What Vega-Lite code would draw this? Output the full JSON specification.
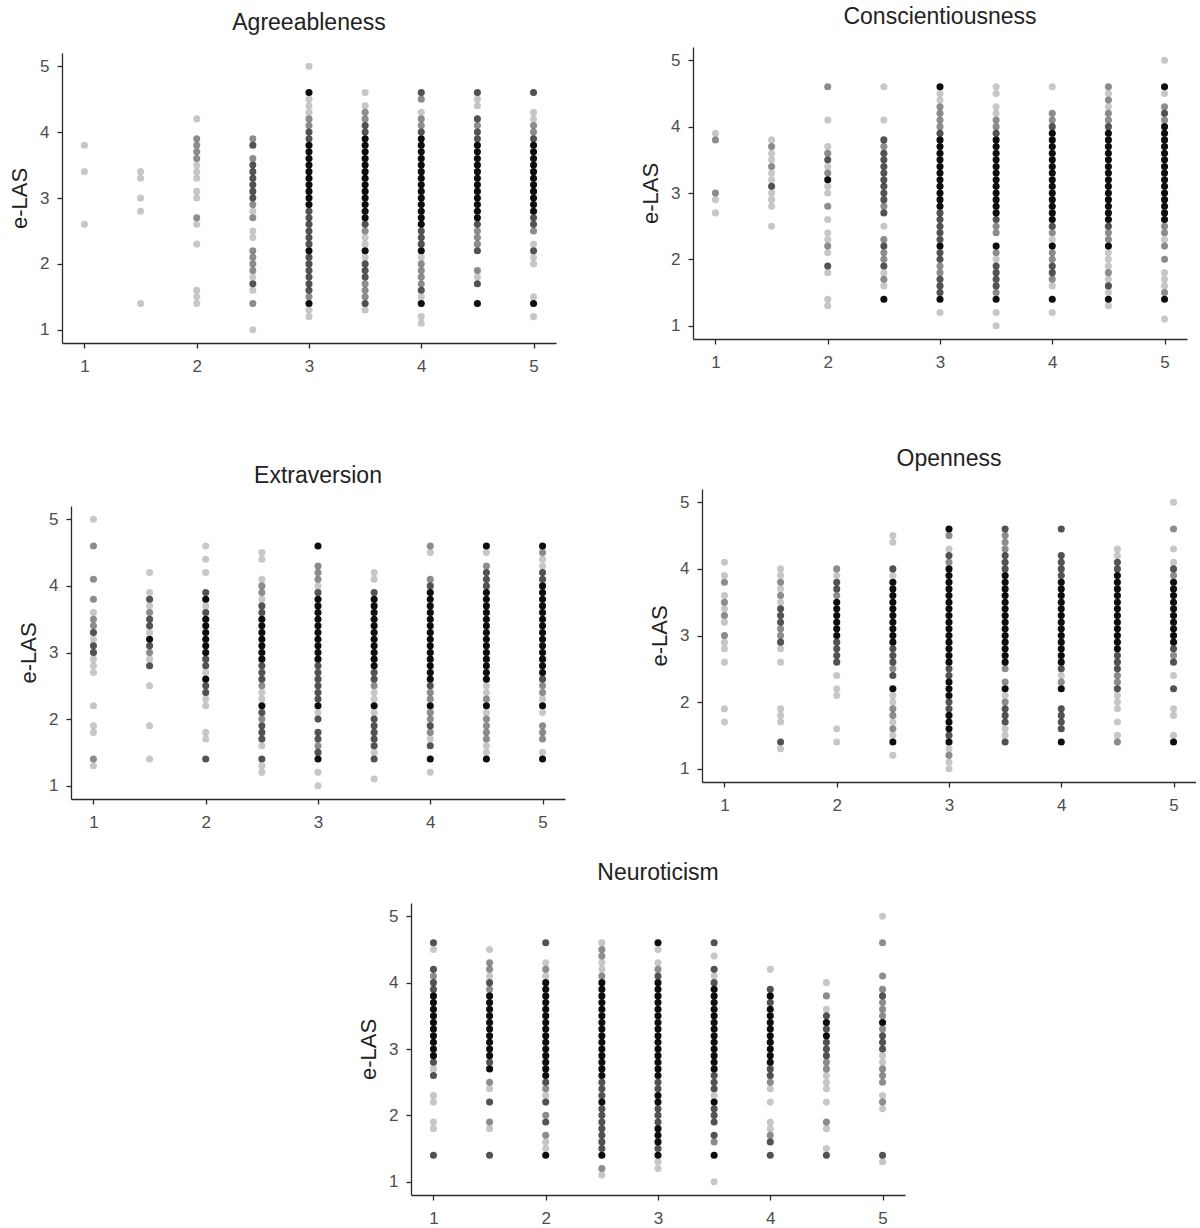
{
  "$schema": "https://vega.github.io/schema/vega-lite/v6.json",
  "background": "#ffffff",
  "padding": {"left": 7, "top": 5, "right": 0, "bottom": 0},
  "config": {
    "font": "Liberation Sans",
    "view": {"stroke": null},
    "title": {"fontSize": 23, "fontWeight": "normal", "color": "#222222", "offset": 18},
    "axis": {
      "grid": false,
      "domainColor": "#2a2a2a",
      "domainWidth": 1.3,
      "tickColor": "#2a2a2a",
      "tickSize": 5,
      "tickWidth": 1.3,
      "labelFontSize": 17,
      "labelColor": "#4d4d4d",
      "labelPadding": 8,
      "titleFontSize": 22,
      "titleFontWeight": "normal",
      "titleColor": "#222222"
    },
    "axisX": {"labelPadding": 10},
    "axisY": {"titlePadding": 8}
  },
  "datasets": {
    "agr": [
      {"x":1,"y":3.8,"n":1},{"x":1,"y":3.4,"n":1},{"x":1,"y":2.6,"n":1},
      {"x":1.5,"y":3.4,"n":1},{"x":1.5,"y":3.3,"n":1},{"x":1.5,"y":3,"n":1},{"x":1.5,"y":2.8,"n":1},{"x":1.5,"y":1.4,"n":1},
      {"x":2,"y":4.2,"n":1},{"x":2,"y":3.9,"n":2},{"x":2,"y":3.8,"n":2},{"x":2,"y":3.7,"n":2},{"x":2,"y":3.6,"n":2},{"x":2,"y":3.5,"n":1},{"x":2,"y":3.4,"n":1},{"x":2,"y":3.3,"n":1},{"x":2,"y":3.1,"n":1},{"x":2,"y":3,"n":1},{"x":2,"y":2.7,"n":2},{"x":2,"y":2.6,"n":1},{"x":2,"y":2.3,"n":1},{"x":2,"y":1.6,"n":1},{"x":2,"y":1.5,"n":1},{"x":2,"y":1.4,"n":1},
      {"x":2.5,"y":3.9,"n":2},{"x":2.5,"y":3.8,"n":3},{"x":2.5,"y":3.6,"n":2},{"x":2.5,"y":3.5,"n":3},{"x":2.5,"y":3.4,"n":3},{"x":2.5,"y":3.3,"n":3},{"x":2.5,"y":3.2,"n":3},{"x":2.5,"y":3.1,"n":3},{"x":2.5,"y":3,"n":3},{"x":2.5,"y":2.9,"n":2},{"x":2.5,"y":2.8,"n":1},{"x":2.5,"y":2.7,"n":2},{"x":2.5,"y":2.5,"n":1},{"x":2.5,"y":2.4,"n":1},{"x":2.5,"y":2.2,"n":2},{"x":2.5,"y":2.1,"n":2},{"x":2.5,"y":2,"n":2},{"x":2.5,"y":1.9,"n":2},{"x":2.5,"y":1.8,"n":1},{"x":2.5,"y":1.7,"n":3},{"x":2.5,"y":1.6,"n":1},{"x":2.5,"y":1.4,"n":2},{"x":2.5,"y":1,"n":1},
      {"x":3,"y":5,"n":1},{"x":3,"y":4.6,"n":4},{"x":3,"y":4.5,"n":1},{"x":3,"y":4.4,"n":1},{"x":3,"y":4.3,"n":1},{"x":3,"y":4.2,"n":2},{"x":3,"y":4.1,"n":2},{"x":3,"y":4,"n":3},{"x":3,"y":3.9,"n":3},{"x":3,"y":3.8,"n":4},{"x":3,"y":3.7,"n":4},{"x":3,"y":3.6,"n":4},{"x":3,"y":3.5,"n":4},{"x":3,"y":3.4,"n":4},{"x":3,"y":3.3,"n":4},{"x":3,"y":3.2,"n":4},{"x":3,"y":3.1,"n":4},{"x":3,"y":3,"n":4},{"x":3,"y":2.9,"n":4},{"x":3,"y":2.8,"n":3},{"x":3,"y":2.7,"n":3},{"x":3,"y":2.6,"n":3},{"x":3,"y":2.5,"n":3},{"x":3,"y":2.4,"n":3},{"x":3,"y":2.3,"n":3},{"x":3,"y":2.2,"n":4},{"x":3,"y":2.1,"n":3},{"x":3,"y":2,"n":3},{"x":3,"y":1.9,"n":3},{"x":3,"y":1.8,"n":3},{"x":3,"y":1.7,"n":3},{"x":3,"y":1.6,"n":3},{"x":3,"y":1.5,"n":2},{"x":3,"y":1.4,"n":4},{"x":3,"y":1.3,"n":1},{"x":3,"y":1.2,"n":1},
      {"x":3.5,"y":4.6,"n":1},{"x":3.5,"y":4.4,"n":1},{"x":3.5,"y":4.3,"n":2},{"x":3.5,"y":4.2,"n":2},{"x":3.5,"y":4.1,"n":3},{"x":3.5,"y":4,"n":3},{"x":3.5,"y":3.9,"n":4},{"x":3.5,"y":3.8,"n":4},{"x":3.5,"y":3.7,"n":4},{"x":3.5,"y":3.6,"n":4},{"x":3.5,"y":3.5,"n":4},{"x":3.5,"y":3.4,"n":4},{"x":3.5,"y":3.3,"n":4},{"x":3.5,"y":3.2,"n":4},{"x":3.5,"y":3.1,"n":4},{"x":3.5,"y":3,"n":4},{"x":3.5,"y":2.9,"n":4},{"x":3.5,"y":2.8,"n":4},{"x":3.5,"y":2.7,"n":4},{"x":3.5,"y":2.6,"n":3},{"x":3.5,"y":2.5,"n":2},{"x":3.5,"y":2.4,"n":1},{"x":3.5,"y":2.3,"n":1},{"x":3.5,"y":2.2,"n":4},{"x":3.5,"y":2.1,"n":1},{"x":3.5,"y":2,"n":3},{"x":3.5,"y":1.9,"n":3},{"x":3.5,"y":1.8,"n":3},{"x":3.5,"y":1.7,"n":2},{"x":3.5,"y":1.6,"n":2},{"x":3.5,"y":1.5,"n":2},{"x":3.5,"y":1.4,"n":3},{"x":3.5,"y":1.3,"n":1},
      {"x":4,"y":4.6,"n":3},{"x":4,"y":4.5,"n":2},{"x":4,"y":4.3,"n":1},{"x":4,"y":4.2,"n":2},{"x":4,"y":4.1,"n":2},{"x":4,"y":4,"n":3},{"x":4,"y":3.9,"n":4},{"x":4,"y":3.8,"n":4},{"x":4,"y":3.7,"n":4},{"x":4,"y":3.6,"n":4},{"x":4,"y":3.5,"n":4},{"x":4,"y":3.4,"n":4},{"x":4,"y":3.3,"n":4},{"x":4,"y":3.2,"n":4},{"x":4,"y":3.1,"n":4},{"x":4,"y":3,"n":4},{"x":4,"y":2.9,"n":4},{"x":4,"y":2.8,"n":4},{"x":4,"y":2.7,"n":4},{"x":4,"y":2.6,"n":4},{"x":4,"y":2.5,"n":3},{"x":4,"y":2.4,"n":3},{"x":4,"y":2.3,"n":3},{"x":4,"y":2.2,"n":4},{"x":4,"y":2.1,"n":1},{"x":4,"y":2,"n":2},{"x":4,"y":1.9,"n":2},{"x":4,"y":1.8,"n":2},{"x":4,"y":1.7,"n":2},{"x":4,"y":1.6,"n":3},{"x":4,"y":1.5,"n":1},{"x":4,"y":1.4,"n":4},{"x":4,"y":1.2,"n":1},{"x":4,"y":1.1,"n":1},
      {"x":4.5,"y":4.6,"n":3},{"x":4.5,"y":4.5,"n":1},{"x":4.5,"y":4.4,"n":1},{"x":4.5,"y":4.2,"n":3},{"x":4.5,"y":4.1,"n":2},{"x":4.5,"y":4,"n":3},{"x":4.5,"y":3.9,"n":3},{"x":4.5,"y":3.8,"n":4},{"x":4.5,"y":3.7,"n":4},{"x":4.5,"y":3.6,"n":4},{"x":4.5,"y":3.5,"n":4},{"x":4.5,"y":3.4,"n":4},{"x":4.5,"y":3.3,"n":4},{"x":4.5,"y":3.2,"n":4},{"x":4.5,"y":3.1,"n":4},{"x":4.5,"y":3,"n":4},{"x":4.5,"y":2.9,"n":4},{"x":4.5,"y":2.8,"n":4},{"x":4.5,"y":2.7,"n":4},{"x":4.5,"y":2.6,"n":3},{"x":4.5,"y":2.5,"n":2},{"x":4.5,"y":2.4,"n":2},{"x":4.5,"y":2.3,"n":2},{"x":4.5,"y":2.2,"n":3},{"x":4.5,"y":1.9,"n":2},{"x":4.5,"y":1.8,"n":1},{"x":4.5,"y":1.7,"n":3},{"x":4.5,"y":1.4,"n":4},
      {"x":5,"y":4.6,"n":3},{"x":5,"y":4.3,"n":1},{"x":5,"y":4.2,"n":1},{"x":5,"y":4.1,"n":2},{"x":5,"y":4,"n":2},{"x":5,"y":3.9,"n":3},{"x":5,"y":3.8,"n":4},{"x":5,"y":3.7,"n":4},{"x":5,"y":3.6,"n":4},{"x":5,"y":3.5,"n":4},{"x":5,"y":3.4,"n":4},{"x":5,"y":3.3,"n":4},{"x":5,"y":3.2,"n":4},{"x":5,"y":3.1,"n":4},{"x":5,"y":3,"n":4},{"x":5,"y":2.9,"n":4},{"x":5,"y":2.8,"n":4},{"x":5,"y":2.7,"n":3},{"x":5,"y":2.6,"n":3},{"x":5,"y":2.5,"n":2},{"x":5,"y":2.3,"n":1},{"x":5,"y":2.2,"n":3},{"x":5,"y":2.1,"n":1},{"x":5,"y":2,"n":1},{"x":5,"y":1.5,"n":1},{"x":5,"y":1.4,"n":4},{"x":5,"y":1.2,"n":1}
    ],
    "con": [
      {"x":1,"y":3.9,"n":1},{"x":1,"y":3.8,"n":2},{"x":1,"y":3,"n":2},{"x":1,"y":2.9,"n":1},{"x":1,"y":2.7,"n":1},
      {"x":1.5,"y":3.8,"n":1},{"x":1.5,"y":3.7,"n":2},{"x":1.5,"y":3.6,"n":1},{"x":1.5,"y":3.5,"n":1},{"x":1.5,"y":3.4,"n":2},{"x":1.5,"y":3.3,"n":1},{"x":1.5,"y":3.2,"n":1},{"x":1.5,"y":3.1,"n":3},{"x":1.5,"y":3,"n":1},{"x":1.5,"y":2.9,"n":1},{"x":1.5,"y":2.8,"n":1},{"x":1.5,"y":2.5,"n":1},
      {"x":2,"y":4.6,"n":2},{"x":2,"y":4.1,"n":1},{"x":2,"y":3.7,"n":1},{"x":2,"y":3.6,"n":2},{"x":2,"y":3.5,"n":3},{"x":2,"y":3.4,"n":1},{"x":2,"y":3.3,"n":2},{"x":2,"y":3.2,"n":4},{"x":2,"y":3.1,"n":1},{"x":2,"y":3,"n":1},{"x":2,"y":2.8,"n":2},{"x":2,"y":2.6,"n":1},{"x":2,"y":2.4,"n":1},{"x":2,"y":2.3,"n":1},{"x":2,"y":2.2,"n":2},{"x":2,"y":2.1,"n":1},{"x":2,"y":1.9,"n":3},{"x":2,"y":1.8,"n":1},{"x":2,"y":1.4,"n":1},{"x":2,"y":1.3,"n":1},
      {"x":2.5,"y":4.6,"n":1},{"x":2.5,"y":4.1,"n":1},{"x":2.5,"y":3.8,"n":3},{"x":2.5,"y":3.7,"n":2},{"x":2.5,"y":3.6,"n":3},{"x":2.5,"y":3.5,"n":3},{"x":2.5,"y":3.4,"n":3},{"x":2.5,"y":3.3,"n":3},{"x":2.5,"y":3.2,"n":3},{"x":2.5,"y":3.1,"n":3},{"x":2.5,"y":3,"n":3},{"x":2.5,"y":2.9,"n":3},{"x":2.5,"y":2.8,"n":2},{"x":2.5,"y":2.7,"n":3},{"x":2.5,"y":2.5,"n":1},{"x":2.5,"y":2.3,"n":2},{"x":2.5,"y":2.2,"n":3},{"x":2.5,"y":2.1,"n":2},{"x":2.5,"y":2,"n":2},{"x":2.5,"y":1.9,"n":3},{"x":2.5,"y":1.8,"n":1},{"x":2.5,"y":1.7,"n":2},{"x":2.5,"y":1.6,"n":1},{"x":2.5,"y":1.4,"n":4},
      {"x":3,"y":4.6,"n":4},{"x":3,"y":4.5,"n":1},{"x":3,"y":4.4,"n":1},{"x":3,"y":4.3,"n":2},{"x":3,"y":4.2,"n":2},{"x":3,"y":4.1,"n":2},{"x":3,"y":4,"n":2},{"x":3,"y":3.9,"n":3},{"x":3,"y":3.8,"n":4},{"x":3,"y":3.7,"n":4},{"x":3,"y":3.6,"n":4},{"x":3,"y":3.5,"n":4},{"x":3,"y":3.4,"n":4},{"x":3,"y":3.3,"n":4},{"x":3,"y":3.2,"n":4},{"x":3,"y":3.1,"n":4},{"x":3,"y":3,"n":4},{"x":3,"y":2.9,"n":4},{"x":3,"y":2.8,"n":4},{"x":3,"y":2.7,"n":3},{"x":3,"y":2.6,"n":3},{"x":3,"y":2.5,"n":3},{"x":3,"y":2.4,"n":3},{"x":3,"y":2.3,"n":3},{"x":3,"y":2.2,"n":4},{"x":3,"y":2.1,"n":3},{"x":3,"y":2,"n":3},{"x":3,"y":1.9,"n":2},{"x":3,"y":1.8,"n":2},{"x":3,"y":1.7,"n":3},{"x":3,"y":1.6,"n":3},{"x":3,"y":1.5,"n":3},{"x":3,"y":1.4,"n":4},{"x":3,"y":1.2,"n":1},
      {"x":3.5,"y":4.6,"n":1},{"x":3.5,"y":4.5,"n":1},{"x":3.5,"y":4.3,"n":1},{"x":3.5,"y":4.2,"n":1},{"x":3.5,"y":4.1,"n":2},{"x":3.5,"y":4,"n":2},{"x":3.5,"y":3.9,"n":3},{"x":3.5,"y":3.8,"n":4},{"x":3.5,"y":3.7,"n":4},{"x":3.5,"y":3.6,"n":4},{"x":3.5,"y":3.5,"n":4},{"x":3.5,"y":3.4,"n":4},{"x":3.5,"y":3.3,"n":4},{"x":3.5,"y":3.2,"n":4},{"x":3.5,"y":3.1,"n":4},{"x":3.5,"y":3,"n":4},{"x":3.5,"y":2.9,"n":4},{"x":3.5,"y":2.8,"n":4},{"x":3.5,"y":2.7,"n":4},{"x":3.5,"y":2.6,"n":3},{"x":3.5,"y":2.5,"n":2},{"x":3.5,"y":2.4,"n":2},{"x":3.5,"y":2.2,"n":4},{"x":3.5,"y":2.1,"n":2},{"x":3.5,"y":2,"n":1},{"x":3.5,"y":1.9,"n":3},{"x":3.5,"y":1.8,"n":3},{"x":3.5,"y":1.7,"n":3},{"x":3.5,"y":1.6,"n":3},{"x":3.5,"y":1.5,"n":2},{"x":3.5,"y":1.4,"n":4},{"x":3.5,"y":1.2,"n":1},{"x":3.5,"y":1,"n":1},
      {"x":4,"y":4.6,"n":1},{"x":4,"y":4.2,"n":2},{"x":4,"y":4.1,"n":2},{"x":4,"y":4,"n":3},{"x":4,"y":3.9,"n":4},{"x":4,"y":3.8,"n":4},{"x":4,"y":3.7,"n":4},{"x":4,"y":3.6,"n":4},{"x":4,"y":3.5,"n":4},{"x":4,"y":3.4,"n":4},{"x":4,"y":3.3,"n":4},{"x":4,"y":3.2,"n":4},{"x":4,"y":3.1,"n":4},{"x":4,"y":3,"n":4},{"x":4,"y":2.9,"n":4},{"x":4,"y":2.8,"n":4},{"x":4,"y":2.7,"n":4},{"x":4,"y":2.6,"n":4},{"x":4,"y":2.5,"n":3},{"x":4,"y":2.4,"n":2},{"x":4,"y":2.3,"n":1},{"x":4,"y":2.2,"n":4},{"x":4,"y":2.1,"n":2},{"x":4,"y":2,"n":2},{"x":4,"y":1.9,"n":3},{"x":4,"y":1.8,"n":3},{"x":4,"y":1.7,"n":2},{"x":4,"y":1.6,"n":1},{"x":4,"y":1.4,"n":4},{"x":4,"y":1.2,"n":1},
      {"x":4.5,"y":4.6,"n":2},{"x":4.5,"y":4.5,"n":1},{"x":4.5,"y":4.4,"n":2},{"x":4.5,"y":4.3,"n":1},{"x":4.5,"y":4.2,"n":2},{"x":4.5,"y":4.1,"n":2},{"x":4.5,"y":4,"n":3},{"x":4.5,"y":3.9,"n":4},{"x":4.5,"y":3.8,"n":4},{"x":4.5,"y":3.7,"n":4},{"x":4.5,"y":3.6,"n":4},{"x":4.5,"y":3.5,"n":4},{"x":4.5,"y":3.4,"n":4},{"x":4.5,"y":3.3,"n":4},{"x":4.5,"y":3.2,"n":4},{"x":4.5,"y":3.1,"n":4},{"x":4.5,"y":3,"n":4},{"x":4.5,"y":2.9,"n":4},{"x":4.5,"y":2.8,"n":4},{"x":4.5,"y":2.7,"n":4},{"x":4.5,"y":2.6,"n":4},{"x":4.5,"y":2.5,"n":3},{"x":4.5,"y":2.4,"n":2},{"x":4.5,"y":2.3,"n":2},{"x":4.5,"y":2.2,"n":4},{"x":4.5,"y":2.1,"n":1},{"x":4.5,"y":2,"n":1},{"x":4.5,"y":1.9,"n":1},{"x":4.5,"y":1.8,"n":2},{"x":4.5,"y":1.7,"n":1},{"x":4.5,"y":1.6,"n":3},{"x":4.5,"y":1.5,"n":1},{"x":4.5,"y":1.4,"n":4},{"x":4.5,"y":1.3,"n":1},
      {"x":5,"y":5,"n":1},{"x":5,"y":4.6,"n":4},{"x":5,"y":4.5,"n":1},{"x":5,"y":4.3,"n":2},{"x":5,"y":4.2,"n":3},{"x":5,"y":4.1,"n":2},{"x":5,"y":4,"n":4},{"x":5,"y":3.9,"n":4},{"x":5,"y":3.8,"n":4},{"x":5,"y":3.7,"n":4},{"x":5,"y":3.6,"n":4},{"x":5,"y":3.5,"n":4},{"x":5,"y":3.4,"n":4},{"x":5,"y":3.3,"n":4},{"x":5,"y":3.2,"n":4},{"x":5,"y":3.1,"n":4},{"x":5,"y":3,"n":4},{"x":5,"y":2.9,"n":4},{"x":5,"y":2.8,"n":4},{"x":5,"y":2.7,"n":4},{"x":5,"y":2.6,"n":4},{"x":5,"y":2.5,"n":2},{"x":5,"y":2.4,"n":2},{"x":5,"y":2.3,"n":1},{"x":5,"y":2.2,"n":2},{"x":5,"y":2,"n":2},{"x":5,"y":1.8,"n":1},{"x":5,"y":1.7,"n":1},{"x":5,"y":1.6,"n":1},{"x":5,"y":1.5,"n":2},{"x":5,"y":1.4,"n":4},{"x":5,"y":1.1,"n":1}
    ],
    "ext": [
      {"x":1,"y":5,"n":1},{"x":1,"y":4.6,"n":2},{"x":1,"y":4.1,"n":2},{"x":1,"y":3.8,"n":2},{"x":1,"y":3.6,"n":1},{"x":1,"y":3.5,"n":2},{"x":1,"y":3.4,"n":2},{"x":1,"y":3.3,"n":3},{"x":1,"y":3.2,"n":1},{"x":1,"y":3.1,"n":3},{"x":1,"y":3,"n":3},{"x":1,"y":2.9,"n":1},{"x":1,"y":2.8,"n":1},{"x":1,"y":2.7,"n":1},{"x":1,"y":2.2,"n":1},{"x":1,"y":1.9,"n":1},{"x":1,"y":1.8,"n":1},{"x":1,"y":1.4,"n":2},{"x":1,"y":1.3,"n":1},
      {"x":1.5,"y":4.2,"n":1},{"x":1.5,"y":3.9,"n":1},{"x":1.5,"y":3.8,"n":3},{"x":1.5,"y":3.7,"n":1},{"x":1.5,"y":3.6,"n":2},{"x":1.5,"y":3.5,"n":3},{"x":1.5,"y":3.4,"n":3},{"x":1.5,"y":3.3,"n":1},{"x":1.5,"y":3.2,"n":4},{"x":1.5,"y":3.1,"n":3},{"x":1.5,"y":3,"n":2},{"x":1.5,"y":2.9,"n":1},{"x":1.5,"y":2.8,"n":3},{"x":1.5,"y":2.5,"n":1},{"x":1.5,"y":1.9,"n":1},{"x":1.5,"y":1.4,"n":1},
      {"x":2,"y":4.6,"n":1},{"x":2,"y":4.4,"n":1},{"x":2,"y":4.2,"n":1},{"x":2,"y":3.9,"n":3},{"x":2,"y":3.8,"n":4},{"x":2,"y":3.7,"n":1},{"x":2,"y":3.6,"n":3},{"x":2,"y":3.5,"n":4},{"x":2,"y":3.4,"n":4},{"x":2,"y":3.3,"n":4},{"x":2,"y":3.2,"n":4},{"x":2,"y":3.1,"n":4},{"x":2,"y":3,"n":4},{"x":2,"y":2.9,"n":3},{"x":2,"y":2.8,"n":3},{"x":2,"y":2.7,"n":1},{"x":2,"y":2.6,"n":4},{"x":2,"y":2.5,"n":3},{"x":2,"y":2.4,"n":3},{"x":2,"y":2.3,"n":1},{"x":2,"y":2.2,"n":1},{"x":2,"y":1.8,"n":1},{"x":2,"y":1.7,"n":1},{"x":2,"y":1.4,"n":3},
      {"x":2.5,"y":4.5,"n":1},{"x":2.5,"y":4.4,"n":1},{"x":2.5,"y":4.1,"n":1},{"x":2.5,"y":4,"n":2},{"x":2.5,"y":3.9,"n":2},{"x":2.5,"y":3.8,"n":1},{"x":2.5,"y":3.7,"n":3},{"x":2.5,"y":3.6,"n":3},{"x":2.5,"y":3.5,"n":4},{"x":2.5,"y":3.4,"n":4},{"x":2.5,"y":3.3,"n":4},{"x":2.5,"y":3.2,"n":4},{"x":2.5,"y":3.1,"n":4},{"x":2.5,"y":3,"n":4},{"x":2.5,"y":2.9,"n":4},{"x":2.5,"y":2.8,"n":3},{"x":2.5,"y":2.7,"n":3},{"x":2.5,"y":2.6,"n":3},{"x":2.5,"y":2.5,"n":2},{"x":2.5,"y":2.4,"n":1},{"x":2.5,"y":2.3,"n":1},{"x":2.5,"y":2.2,"n":4},{"x":2.5,"y":2.1,"n":3},{"x":2.5,"y":2,"n":2},{"x":2.5,"y":1.9,"n":3},{"x":2.5,"y":1.8,"n":3},{"x":2.5,"y":1.7,"n":3},{"x":2.5,"y":1.6,"n":1},{"x":2.5,"y":1.4,"n":3},{"x":2.5,"y":1.3,"n":1},{"x":2.5,"y":1.2,"n":1},
      {"x":3,"y":4.6,"n":4},{"x":3,"y":4.3,"n":2},{"x":3,"y":4.2,"n":2},{"x":3,"y":4.1,"n":2},{"x":3,"y":4,"n":1},{"x":3,"y":3.9,"n":3},{"x":3,"y":3.8,"n":4},{"x":3,"y":3.7,"n":4},{"x":3,"y":3.6,"n":4},{"x":3,"y":3.5,"n":4},{"x":3,"y":3.4,"n":4},{"x":3,"y":3.3,"n":4},{"x":3,"y":3.2,"n":4},{"x":3,"y":3.1,"n":4},{"x":3,"y":3,"n":4},{"x":3,"y":2.9,"n":4},{"x":3,"y":2.8,"n":3},{"x":3,"y":2.7,"n":3},{"x":3,"y":2.6,"n":3},{"x":3,"y":2.5,"n":3},{"x":3,"y":2.4,"n":3},{"x":3,"y":2.3,"n":3},{"x":3,"y":2.2,"n":4},{"x":3,"y":2.1,"n":1},{"x":3,"y":2,"n":3},{"x":3,"y":1.8,"n":3},{"x":3,"y":1.7,"n":3},{"x":3,"y":1.6,"n":2},{"x":3,"y":1.5,"n":3},{"x":3,"y":1.4,"n":4},{"x":3,"y":1.2,"n":1},{"x":3,"y":1,"n":1},
      {"x":3.5,"y":4.2,"n":1},{"x":3.5,"y":4.1,"n":1},{"x":3.5,"y":3.9,"n":3},{"x":3.5,"y":3.8,"n":4},{"x":3.5,"y":3.7,"n":4},{"x":3.5,"y":3.6,"n":4},{"x":3.5,"y":3.5,"n":4},{"x":3.5,"y":3.4,"n":4},{"x":3.5,"y":3.3,"n":4},{"x":3.5,"y":3.2,"n":4},{"x":3.5,"y":3.1,"n":4},{"x":3.5,"y":3,"n":4},{"x":3.5,"y":2.9,"n":4},{"x":3.5,"y":2.8,"n":4},{"x":3.5,"y":2.7,"n":3},{"x":3.5,"y":2.6,"n":3},{"x":3.5,"y":2.5,"n":2},{"x":3.5,"y":2.4,"n":1},{"x":3.5,"y":2.3,"n":1},{"x":3.5,"y":2.2,"n":4},{"x":3.5,"y":2.1,"n":1},{"x":3.5,"y":2,"n":3},{"x":3.5,"y":1.9,"n":3},{"x":3.5,"y":1.8,"n":3},{"x":3.5,"y":1.7,"n":3},{"x":3.5,"y":1.6,"n":3},{"x":3.5,"y":1.5,"n":1},{"x":3.5,"y":1.4,"n":3},{"x":3.5,"y":1.1,"n":1},
      {"x":4,"y":4.6,"n":2},{"x":4,"y":4.5,"n":1},{"x":4,"y":4.1,"n":2},{"x":4,"y":4,"n":3},{"x":4,"y":3.9,"n":4},{"x":4,"y":3.8,"n":4},{"x":4,"y":3.7,"n":4},{"x":4,"y":3.6,"n":4},{"x":4,"y":3.5,"n":4},{"x":4,"y":3.4,"n":4},{"x":4,"y":3.3,"n":4},{"x":4,"y":3.2,"n":4},{"x":4,"y":3.1,"n":4},{"x":4,"y":3,"n":4},{"x":4,"y":2.9,"n":4},{"x":4,"y":2.8,"n":4},{"x":4,"y":2.7,"n":4},{"x":4,"y":2.6,"n":4},{"x":4,"y":2.5,"n":3},{"x":4,"y":2.4,"n":2},{"x":4,"y":2.3,"n":2},{"x":4,"y":2.2,"n":4},{"x":4,"y":2.1,"n":2},{"x":4,"y":2,"n":2},{"x":4,"y":1.9,"n":3},{"x":4,"y":1.8,"n":2},{"x":4,"y":1.7,"n":1},{"x":4,"y":1.6,"n":3},{"x":4,"y":1.4,"n":4},{"x":4,"y":1.2,"n":1},
      {"x":4.5,"y":4.6,"n":4},{"x":4.5,"y":4.5,"n":1},{"x":4.5,"y":4.3,"n":2},{"x":4.5,"y":4.2,"n":3},{"x":4.5,"y":4.1,"n":3},{"x":4.5,"y":4,"n":3},{"x":4.5,"y":3.9,"n":4},{"x":4.5,"y":3.8,"n":4},{"x":4.5,"y":3.7,"n":4},{"x":4.5,"y":3.6,"n":4},{"x":4.5,"y":3.5,"n":4},{"x":4.5,"y":3.4,"n":4},{"x":4.5,"y":3.3,"n":4},{"x":4.5,"y":3.2,"n":4},{"x":4.5,"y":3.1,"n":4},{"x":4.5,"y":3,"n":4},{"x":4.5,"y":2.9,"n":4},{"x":4.5,"y":2.8,"n":4},{"x":4.5,"y":2.7,"n":4},{"x":4.5,"y":2.6,"n":4},{"x":4.5,"y":2.5,"n":1},{"x":4.5,"y":2.4,"n":1},{"x":4.5,"y":2.3,"n":2},{"x":4.5,"y":2.2,"n":4},{"x":4.5,"y":2.1,"n":1},{"x":4.5,"y":2,"n":2},{"x":4.5,"y":1.9,"n":2},{"x":4.5,"y":1.8,"n":2},{"x":4.5,"y":1.7,"n":2},{"x":4.5,"y":1.6,"n":1},{"x":4.5,"y":1.5,"n":1},{"x":4.5,"y":1.4,"n":4},
      {"x":5,"y":4.6,"n":4},{"x":5,"y":4.5,"n":2},{"x":5,"y":4.4,"n":1},{"x":5,"y":4.3,"n":1},{"x":5,"y":4.2,"n":3},{"x":5,"y":4.1,"n":3},{"x":5,"y":4,"n":4},{"x":5,"y":3.9,"n":4},{"x":5,"y":3.8,"n":4},{"x":5,"y":3.7,"n":4},{"x":5,"y":3.6,"n":4},{"x":5,"y":3.5,"n":4},{"x":5,"y":3.4,"n":4},{"x":5,"y":3.3,"n":4},{"x":5,"y":3.2,"n":4},{"x":5,"y":3.1,"n":4},{"x":5,"y":3,"n":4},{"x":5,"y":2.9,"n":4},{"x":5,"y":2.8,"n":4},{"x":5,"y":2.7,"n":4},{"x":5,"y":2.6,"n":3},{"x":5,"y":2.5,"n":2},{"x":5,"y":2.4,"n":2},{"x":5,"y":2.3,"n":1},{"x":5,"y":2.2,"n":4},{"x":5,"y":2.1,"n":1},{"x":5,"y":1.9,"n":2},{"x":5,"y":1.8,"n":2},{"x":5,"y":1.7,"n":2},{"x":5,"y":1.5,"n":1},{"x":5,"y":1.4,"n":4}
    ],
    "ope": [
      {"x":1,"y":4.1,"n":1},{"x":1,"y":3.9,"n":1},{"x":1,"y":3.8,"n":2},{"x":1,"y":3.6,"n":1},{"x":1,"y":3.5,"n":2},{"x":1,"y":3.4,"n":1},{"x":1,"y":3.3,"n":2},{"x":1,"y":3.2,"n":1},{"x":1,"y":3,"n":2},{"x":1,"y":2.9,"n":1},{"x":1,"y":2.8,"n":1},{"x":1,"y":2.6,"n":1},{"x":1,"y":1.9,"n":1},{"x":1,"y":1.7,"n":1},
      {"x":1.5,"y":4,"n":1},{"x":1.5,"y":3.9,"n":1},{"x":1.5,"y":3.8,"n":2},{"x":1.5,"y":3.7,"n":1},{"x":1.5,"y":3.6,"n":2},{"x":1.5,"y":3.5,"n":1},{"x":1.5,"y":3.4,"n":3},{"x":1.5,"y":3.3,"n":3},{"x":1.5,"y":3.2,"n":3},{"x":1.5,"y":3.1,"n":2},{"x":1.5,"y":3,"n":2},{"x":1.5,"y":2.9,"n":3},{"x":1.5,"y":2.8,"n":1},{"x":1.5,"y":2.6,"n":1},{"x":1.5,"y":1.9,"n":1},{"x":1.5,"y":1.8,"n":1},{"x":1.5,"y":1.7,"n":1},{"x":1.5,"y":1.4,"n":3},{"x":1.5,"y":1.3,"n":1},
      {"x":2,"y":4,"n":2},{"x":2,"y":3.9,"n":1},{"x":2,"y":3.8,"n":3},{"x":2,"y":3.7,"n":3},{"x":2,"y":3.6,"n":2},{"x":2,"y":3.5,"n":4},{"x":2,"y":3.4,"n":4},{"x":2,"y":3.3,"n":4},{"x":2,"y":3.2,"n":4},{"x":2,"y":3.1,"n":4},{"x":2,"y":3,"n":4},{"x":2,"y":2.9,"n":3},{"x":2,"y":2.8,"n":3},{"x":2,"y":2.7,"n":3},{"x":2,"y":2.6,"n":3},{"x":2,"y":2.4,"n":1},{"x":2,"y":2.2,"n":1},{"x":2,"y":2.1,"n":1},{"x":2,"y":1.6,"n":1},{"x":2,"y":1.4,"n":1},
      {"x":2.5,"y":4.5,"n":1},{"x":2.5,"y":4.4,"n":1},{"x":2.5,"y":4,"n":3},{"x":2.5,"y":3.9,"n":1},{"x":2.5,"y":3.8,"n":4},{"x":2.5,"y":3.7,"n":4},{"x":2.5,"y":3.6,"n":4},{"x":2.5,"y":3.5,"n":4},{"x":2.5,"y":3.4,"n":4},{"x":2.5,"y":3.3,"n":4},{"x":2.5,"y":3.2,"n":4},{"x":2.5,"y":3.1,"n":4},{"x":2.5,"y":3,"n":4},{"x":2.5,"y":2.9,"n":4},{"x":2.5,"y":2.8,"n":3},{"x":2.5,"y":2.7,"n":3},{"x":2.5,"y":2.6,"n":3},{"x":2.5,"y":2.5,"n":2},{"x":2.5,"y":2.4,"n":3},{"x":2.5,"y":2.2,"n":4},{"x":2.5,"y":2.1,"n":1},{"x":2.5,"y":2,"n":1},{"x":2.5,"y":1.9,"n":2},{"x":2.5,"y":1.8,"n":2},{"x":2.5,"y":1.7,"n":1},{"x":2.5,"y":1.6,"n":2},{"x":2.5,"y":1.5,"n":1},{"x":2.5,"y":1.4,"n":4},{"x":2.5,"y":1.2,"n":1},
      {"x":3,"y":4.6,"n":4},{"x":3,"y":4.5,"n":2},{"x":3,"y":4.3,"n":1},{"x":3,"y":4.2,"n":3},{"x":3,"y":4.1,"n":2},{"x":3,"y":4,"n":4},{"x":3,"y":3.9,"n":4},{"x":3,"y":3.8,"n":4},{"x":3,"y":3.7,"n":4},{"x":3,"y":3.6,"n":4},{"x":3,"y":3.5,"n":4},{"x":3,"y":3.4,"n":4},{"x":3,"y":3.3,"n":4},{"x":3,"y":3.2,"n":4},{"x":3,"y":3.1,"n":4},{"x":3,"y":3,"n":4},{"x":3,"y":2.9,"n":4},{"x":3,"y":2.8,"n":4},{"x":3,"y":2.7,"n":4},{"x":3,"y":2.6,"n":4},{"x":3,"y":2.5,"n":3},{"x":3,"y":2.4,"n":3},{"x":3,"y":2.3,"n":4},{"x":3,"y":2.2,"n":4},{"x":3,"y":2.1,"n":4},{"x":3,"y":2,"n":3},{"x":3,"y":1.9,"n":3},{"x":3,"y":1.8,"n":4},{"x":3,"y":1.7,"n":4},{"x":3,"y":1.6,"n":4},{"x":3,"y":1.5,"n":3},{"x":3,"y":1.4,"n":4},{"x":3,"y":1.3,"n":1},{"x":3,"y":1.2,"n":2},{"x":3,"y":1.1,"n":1},{"x":3,"y":1,"n":1},
      {"x":3.5,"y":4.6,"n":3},{"x":3.5,"y":4.5,"n":2},{"x":3.5,"y":4.4,"n":2},{"x":3.5,"y":4.3,"n":2},{"x":3.5,"y":4.2,"n":3},{"x":3.5,"y":4.1,"n":3},{"x":3.5,"y":4,"n":3},{"x":3.5,"y":3.9,"n":4},{"x":3.5,"y":3.8,"n":4},{"x":3.5,"y":3.7,"n":4},{"x":3.5,"y":3.6,"n":4},{"x":3.5,"y":3.5,"n":4},{"x":3.5,"y":3.4,"n":4},{"x":3.5,"y":3.3,"n":4},{"x":3.5,"y":3.2,"n":4},{"x":3.5,"y":3.1,"n":4},{"x":3.5,"y":3,"n":4},{"x":3.5,"y":2.9,"n":4},{"x":3.5,"y":2.8,"n":4},{"x":3.5,"y":2.7,"n":4},{"x":3.5,"y":2.6,"n":4},{"x":3.5,"y":2.5,"n":2},{"x":3.5,"y":2.3,"n":2},{"x":3.5,"y":2.2,"n":4},{"x":3.5,"y":2.1,"n":1},{"x":3.5,"y":2,"n":2},{"x":3.5,"y":1.9,"n":3},{"x":3.5,"y":1.8,"n":3},{"x":3.5,"y":1.7,"n":3},{"x":3.5,"y":1.6,"n":1},{"x":3.5,"y":1.5,"n":1},{"x":3.5,"y":1.4,"n":3},
      {"x":4,"y":4.6,"n":3},{"x":4,"y":4.2,"n":3},{"x":4,"y":4.1,"n":3},{"x":4,"y":4,"n":3},{"x":4,"y":3.9,"n":3},{"x":4,"y":3.8,"n":4},{"x":4,"y":3.7,"n":4},{"x":4,"y":3.6,"n":4},{"x":4,"y":3.5,"n":4},{"x":4,"y":3.4,"n":4},{"x":4,"y":3.3,"n":4},{"x":4,"y":3.2,"n":4},{"x":4,"y":3.1,"n":4},{"x":4,"y":3,"n":4},{"x":4,"y":2.9,"n":4},{"x":4,"y":2.8,"n":4},{"x":4,"y":2.7,"n":4},{"x":4,"y":2.6,"n":4},{"x":4,"y":2.5,"n":3},{"x":4,"y":2.4,"n":1},{"x":4,"y":2.3,"n":2},{"x":4,"y":2.2,"n":4},{"x":4,"y":1.9,"n":3},{"x":4,"y":1.8,"n":3},{"x":4,"y":1.7,"n":3},{"x":4,"y":1.6,"n":3},{"x":4,"y":1.4,"n":4},
      {"x":4.5,"y":4.3,"n":1},{"x":4.5,"y":4.2,"n":1},{"x":4.5,"y":4.1,"n":3},{"x":4.5,"y":4,"n":3},{"x":4.5,"y":3.9,"n":4},{"x":4.5,"y":3.8,"n":4},{"x":4.5,"y":3.7,"n":4},{"x":4.5,"y":3.6,"n":4},{"x":4.5,"y":3.5,"n":4},{"x":4.5,"y":3.4,"n":4},{"x":4.5,"y":3.3,"n":4},{"x":4.5,"y":3.2,"n":4},{"x":4.5,"y":3.1,"n":4},{"x":4.5,"y":3,"n":4},{"x":4.5,"y":2.9,"n":4},{"x":4.5,"y":2.8,"n":4},{"x":4.5,"y":2.7,"n":3},{"x":4.5,"y":2.6,"n":3},{"x":4.5,"y":2.5,"n":3},{"x":4.5,"y":2.4,"n":2},{"x":4.5,"y":2.3,"n":2},{"x":4.5,"y":2.2,"n":3},{"x":4.5,"y":2.1,"n":1},{"x":4.5,"y":2,"n":1},{"x":4.5,"y":1.9,"n":1},{"x":4.5,"y":1.7,"n":1},{"x":4.5,"y":1.5,"n":1},{"x":4.5,"y":1.4,"n":2},
      {"x":5,"y":5,"n":1},{"x":5,"y":4.6,"n":2},{"x":5,"y":4.3,"n":1},{"x":5,"y":4.1,"n":1},{"x":5,"y":4,"n":3},{"x":5,"y":3.9,"n":2},{"x":5,"y":3.8,"n":4},{"x":5,"y":3.7,"n":4},{"x":5,"y":3.6,"n":4},{"x":5,"y":3.5,"n":4},{"x":5,"y":3.4,"n":4},{"x":5,"y":3.3,"n":4},{"x":5,"y":3.2,"n":4},{"x":5,"y":3.1,"n":4},{"x":5,"y":3,"n":4},{"x":5,"y":2.9,"n":4},{"x":5,"y":2.8,"n":3},{"x":5,"y":2.7,"n":2},{"x":5,"y":2.6,"n":3},{"x":5,"y":2.4,"n":1},{"x":5,"y":2.2,"n":3},{"x":5,"y":1.9,"n":1},{"x":5,"y":1.8,"n":1},{"x":5,"y":1.5,"n":1},{"x":5,"y":1.4,"n":4}
    ],
    "neu": [
      {"x":1,"y":4.6,"n":3},{"x":1,"y":4.5,"n":1},{"x":1,"y":4.2,"n":3},{"x":1,"y":4.1,"n":2},{"x":1,"y":4,"n":3},{"x":1,"y":3.9,"n":3},{"x":1,"y":3.8,"n":4},{"x":1,"y":3.7,"n":4},{"x":1,"y":3.6,"n":4},{"x":1,"y":3.5,"n":4},{"x":1,"y":3.4,"n":4},{"x":1,"y":3.3,"n":4},{"x":1,"y":3.2,"n":4},{"x":1,"y":3.1,"n":4},{"x":1,"y":3,"n":4},{"x":1,"y":2.9,"n":4},{"x":1,"y":2.8,"n":3},{"x":1,"y":2.7,"n":1},{"x":1,"y":2.6,"n":3},{"x":1,"y":2.3,"n":1},{"x":1,"y":2.2,"n":1},{"x":1,"y":1.9,"n":1},{"x":1,"y":1.8,"n":1},{"x":1,"y":1.4,"n":3},
      {"x":1.5,"y":4.5,"n":1},{"x":1.5,"y":4.3,"n":2},{"x":1.5,"y":4.2,"n":2},{"x":1.5,"y":4.1,"n":1},{"x":1.5,"y":4,"n":3},{"x":1.5,"y":3.9,"n":2},{"x":1.5,"y":3.8,"n":4},{"x":1.5,"y":3.7,"n":4},{"x":1.5,"y":3.6,"n":4},{"x":1.5,"y":3.5,"n":4},{"x":1.5,"y":3.4,"n":4},{"x":1.5,"y":3.3,"n":4},{"x":1.5,"y":3.2,"n":4},{"x":1.5,"y":3.1,"n":4},{"x":1.5,"y":3,"n":4},{"x":1.5,"y":2.9,"n":4},{"x":1.5,"y":2.8,"n":3},{"x":1.5,"y":2.7,"n":4},{"x":1.5,"y":2.5,"n":2},{"x":1.5,"y":2.4,"n":1},{"x":1.5,"y":2.2,"n":3},{"x":1.5,"y":1.9,"n":2},{"x":1.5,"y":1.8,"n":1},{"x":1.5,"y":1.4,"n":3},
      {"x":2,"y":4.6,"n":3},{"x":2,"y":4.3,"n":1},{"x":2,"y":4.2,"n":2},{"x":2,"y":4.1,"n":1},{"x":2,"y":4,"n":4},{"x":2,"y":3.9,"n":4},{"x":2,"y":3.8,"n":4},{"x":2,"y":3.7,"n":4},{"x":2,"y":3.6,"n":4},{"x":2,"y":3.5,"n":4},{"x":2,"y":3.4,"n":4},{"x":2,"y":3.3,"n":4},{"x":2,"y":3.2,"n":4},{"x":2,"y":3.1,"n":4},{"x":2,"y":3,"n":4},{"x":2,"y":2.9,"n":4},{"x":2,"y":2.8,"n":4},{"x":2,"y":2.7,"n":4},{"x":2,"y":2.6,"n":4},{"x":2,"y":2.5,"n":3},{"x":2,"y":2.4,"n":2},{"x":2,"y":2.3,"n":1},{"x":2,"y":2.2,"n":3},{"x":2,"y":2,"n":2},{"x":2,"y":1.9,"n":3},{"x":2,"y":1.7,"n":2},{"x":2,"y":1.6,"n":1},{"x":2,"y":1.5,"n":1},{"x":2,"y":1.4,"n":4},
      {"x":2.5,"y":4.6,"n":1},{"x":2.5,"y":4.5,"n":2},{"x":2.5,"y":4.4,"n":2},{"x":2.5,"y":4.3,"n":1},{"x":2.5,"y":4.2,"n":1},{"x":2.5,"y":4.1,"n":2},{"x":2.5,"y":4,"n":4},{"x":2.5,"y":3.9,"n":4},{"x":2.5,"y":3.8,"n":4},{"x":2.5,"y":3.7,"n":4},{"x":2.5,"y":3.6,"n":4},{"x":2.5,"y":3.5,"n":4},{"x":2.5,"y":3.4,"n":4},{"x":2.5,"y":3.3,"n":4},{"x":2.5,"y":3.2,"n":4},{"x":2.5,"y":3.1,"n":4},{"x":2.5,"y":3,"n":4},{"x":2.5,"y":2.9,"n":4},{"x":2.5,"y":2.8,"n":4},{"x":2.5,"y":2.7,"n":4},{"x":2.5,"y":2.6,"n":4},{"x":2.5,"y":2.5,"n":3},{"x":2.5,"y":2.4,"n":3},{"x":2.5,"y":2.3,"n":3},{"x":2.5,"y":2.2,"n":4},{"x":2.5,"y":2.1,"n":3},{"x":2.5,"y":2,"n":3},{"x":2.5,"y":1.9,"n":3},{"x":2.5,"y":1.8,"n":3},{"x":2.5,"y":1.7,"n":3},{"x":2.5,"y":1.6,"n":3},{"x":2.5,"y":1.5,"n":3},{"x":2.5,"y":1.4,"n":4},{"x":2.5,"y":1.2,"n":2},{"x":2.5,"y":1.1,"n":1},
      {"x":3,"y":4.6,"n":4},{"x":3,"y":4.5,"n":1},{"x":3,"y":4.3,"n":1},{"x":3,"y":4.2,"n":2},{"x":3,"y":4.1,"n":3},{"x":3,"y":4,"n":4},{"x":3,"y":3.9,"n":4},{"x":3,"y":3.8,"n":4},{"x":3,"y":3.7,"n":4},{"x":3,"y":3.6,"n":4},{"x":3,"y":3.5,"n":4},{"x":3,"y":3.4,"n":4},{"x":3,"y":3.3,"n":4},{"x":3,"y":3.2,"n":4},{"x":3,"y":3.1,"n":4},{"x":3,"y":3,"n":4},{"x":3,"y":2.9,"n":4},{"x":3,"y":2.8,"n":4},{"x":3,"y":2.7,"n":4},{"x":3,"y":2.6,"n":4},{"x":3,"y":2.5,"n":3},{"x":3,"y":2.4,"n":3},{"x":3,"y":2.3,"n":4},{"x":3,"y":2.2,"n":4},{"x":3,"y":2.1,"n":3},{"x":3,"y":2,"n":3},{"x":3,"y":1.9,"n":3},{"x":3,"y":1.8,"n":4},{"x":3,"y":1.7,"n":4},{"x":3,"y":1.6,"n":4},{"x":3,"y":1.5,"n":3},{"x":3,"y":1.4,"n":4},{"x":3,"y":1.3,"n":1},{"x":3,"y":1.2,"n":1},
      {"x":3.5,"y":4.6,"n":3},{"x":3.5,"y":4.4,"n":1},{"x":3.5,"y":4.2,"n":3},{"x":3.5,"y":4.1,"n":1},{"x":3.5,"y":4,"n":3},{"x":3.5,"y":3.9,"n":4},{"x":3.5,"y":3.8,"n":4},{"x":3.5,"y":3.7,"n":4},{"x":3.5,"y":3.6,"n":4},{"x":3.5,"y":3.5,"n":4},{"x":3.5,"y":3.4,"n":4},{"x":3.5,"y":3.3,"n":4},{"x":3.5,"y":3.2,"n":4},{"x":3.5,"y":3.1,"n":4},{"x":3.5,"y":3,"n":4},{"x":3.5,"y":2.9,"n":4},{"x":3.5,"y":2.8,"n":4},{"x":3.5,"y":2.7,"n":4},{"x":3.5,"y":2.6,"n":3},{"x":3.5,"y":2.5,"n":3},{"x":3.5,"y":2.4,"n":3},{"x":3.5,"y":2.3,"n":1},{"x":3.5,"y":2.2,"n":4},{"x":3.5,"y":2.1,"n":3},{"x":3.5,"y":2,"n":3},{"x":3.5,"y":1.9,"n":3},{"x":3.5,"y":1.7,"n":3},{"x":3.5,"y":1.6,"n":2},{"x":3.5,"y":1.4,"n":4},{"x":3.5,"y":1,"n":1},
      {"x":4,"y":4.2,"n":1},{"x":4,"y":3.9,"n":3},{"x":4,"y":3.8,"n":4},{"x":4,"y":3.7,"n":3},{"x":4,"y":3.6,"n":4},{"x":4,"y":3.5,"n":4},{"x":4,"y":3.4,"n":4},{"x":4,"y":3.3,"n":4},{"x":4,"y":3.2,"n":4},{"x":4,"y":3.1,"n":4},{"x":4,"y":3,"n":4},{"x":4,"y":2.9,"n":4},{"x":4,"y":2.8,"n":4},{"x":4,"y":2.7,"n":3},{"x":4,"y":2.6,"n":3},{"x":4,"y":2.5,"n":2},{"x":4,"y":2.4,"n":1},{"x":4,"y":2.2,"n":1},{"x":4,"y":1.9,"n":1},{"x":4,"y":1.8,"n":1},{"x":4,"y":1.7,"n":2},{"x":4,"y":1.6,"n":3},{"x":4,"y":1.4,"n":3},
      {"x":4.5,"y":4,"n":1},{"x":4.5,"y":3.8,"n":2},{"x":4.5,"y":3.6,"n":1},{"x":4.5,"y":3.5,"n":3},{"x":4.5,"y":3.4,"n":4},{"x":4.5,"y":3.3,"n":3},{"x":4.5,"y":3.2,"n":4},{"x":4.5,"y":3.1,"n":3},{"x":4.5,"y":3,"n":3},{"x":4.5,"y":2.9,"n":3},{"x":4.5,"y":2.8,"n":2},{"x":4.5,"y":2.7,"n":2},{"x":4.5,"y":2.6,"n":1},{"x":4.5,"y":2.5,"n":1},{"x":4.5,"y":2.4,"n":1},{"x":4.5,"y":2.2,"n":1},{"x":4.5,"y":1.9,"n":2},{"x":4.5,"y":1.8,"n":1},{"x":4.5,"y":1.5,"n":1},{"x":4.5,"y":1.4,"n":3},
      {"x":5,"y":5,"n":1},{"x":5,"y":4.6,"n":2},{"x":5,"y":4.1,"n":2},{"x":5,"y":3.9,"n":2},{"x":5,"y":3.8,"n":3},{"x":5,"y":3.7,"n":2},{"x":5,"y":3.6,"n":2},{"x":5,"y":3.5,"n":2},{"x":5,"y":3.4,"n":4},{"x":5,"y":3.3,"n":2},{"x":5,"y":3.2,"n":3},{"x":5,"y":3.1,"n":3},{"x":5,"y":3,"n":3},{"x":5,"y":2.9,"n":1},{"x":5,"y":2.8,"n":1},{"x":5,"y":2.7,"n":2},{"x":5,"y":2.6,"n":2},{"x":5,"y":2.5,"n":2},{"x":5,"y":2.3,"n":1},{"x":5,"y":2.2,"n":2},{"x":5,"y":2.1,"n":1},{"x":5,"y":1.4,"n":3},{"x":5,"y":1.3,"n":1}
    ]
  },
  "spacing": 32,
  "vconcat": [
    {
      "spacing": 73,
      "vconcat": [
        {
          "spacing": 0,
          "hconcat": [
            {"width": 1, "height": 1, "data": {"values": []}, "mark": {"type": "circle"}, "encoding": {}},
            {
              "spacing": 83,
              "hconcat": [
                {
                  "spacing": 6,
                  "vconcat": [
                    {"width": 1, "height": 1, "data": {"values": []}, "mark": {"type": "circle"}, "encoding": {}},
                    {
                      "title": {"text": "Agreeableness"},
                      "width": 494, "height": 290,
                      "data": {"name": "agr"},
                      "mark": {"type": "circle", "size": 50, "color": "#000000"},
                      "encoding": {
                        "x": {"field": "x", "type": "quantitative", "scale": {"domain": [0.8, 5.2], "nice": false, "zero": false}, "axis": {"values": [1, 2, 3, 4, 5], "title": null}},
                        "y": {"field": "y", "type": "quantitative", "scale": {"domain": [0.8, 5.2], "nice": false, "zero": false}, "axis": {"values": [1, 2, 3, 4, 5], "title": "e-LAS"}},
                        "opacity": {"field": "n", "type": "quantitative", "scale": {"domain": [1, 2, 3, 4], "range": [0.22, 0.45, 0.68, 0.95]}, "legend": null}
                      }
                    }
                  ]
                },
                {
                  "spacing": 0,
                  "vconcat": [
                    {"width": 1, "height": 1, "data": {"values": []}, "mark": {"type": "circle"}, "encoding": {}},
                    {
                      "title": {"text": "Conscientiousness"},
                      "width": 494, "height": 292,
                      "data": {"name": "con"},
                      "mark": {"type": "circle", "size": 50, "color": "#000000"},
                      "encoding": {
                        "x": {"field": "x", "type": "quantitative", "scale": {"domain": [0.8, 5.2], "nice": false, "zero": false}, "axis": {"values": [1, 2, 3, 4, 5], "title": null}},
                        "y": {"field": "y", "type": "quantitative", "scale": {"domain": [0.8, 5.2], "nice": false, "zero": false}, "axis": {"values": [1, 2, 3, 4, 5], "title": "e-LAS"}},
                        "opacity": {"field": "n", "type": "quantitative", "scale": {"domain": [1, 2, 3, 4], "range": [0.22, 0.45, 0.68, 0.95]}, "legend": null}
                      }
                    }
                  ]
                }
              ]
            }
          ]
        },
        {
          "spacing": 9,
          "hconcat": [
            {"width": 1, "height": 1, "data": {"values": []}, "mark": {"type": "circle"}, "encoding": {}},
            {
              "spacing": 83,
              "hconcat": [
                {
                  "spacing": 17,
                  "vconcat": [
                    {"width": 1, "height": 1, "data": {"values": []}, "mark": {"type": "circle"}, "encoding": {}},
                    {
                      "title": {"text": "Extraversion"},
                      "width": 494, "height": 293,
                      "data": {"name": "ext"},
                      "mark": {"type": "circle", "size": 50, "color": "#000000"},
                      "encoding": {
                        "x": {"field": "x", "type": "quantitative", "scale": {"domain": [0.8, 5.2], "nice": false, "zero": false}, "axis": {"values": [1, 2, 3, 4, 5], "title": null}},
                        "y": {"field": "y", "type": "quantitative", "scale": {"domain": [0.8, 5.2], "nice": false, "zero": false}, "axis": {"values": [1, 2, 3, 4, 5], "title": "e-LAS"}},
                        "opacity": {"field": "n", "type": "quantitative", "scale": {"domain": [1, 2, 3, 4], "range": [0.22, 0.45, 0.68, 0.95]}, "legend": null}
                      }
                    }
                  ]
                },
                {
                  "spacing": 0,
                  "vconcat": [
                    {"width": 1, "height": 1, "data": {"values": []}, "mark": {"type": "circle"}, "encoding": {}},
                    {
                      "title": {"text": "Openness"},
                      "width": 494, "height": 293,
                      "data": {"name": "ope"},
                      "mark": {"type": "circle", "size": 50, "color": "#000000"},
                      "encoding": {
                        "x": {"field": "x", "type": "quantitative", "scale": {"domain": [0.8, 5.2], "nice": false, "zero": false}, "axis": {"values": [1, 2, 3, 4, 5], "title": null}},
                        "y": {"field": "y", "type": "quantitative", "scale": {"domain": [0.8, 5.2], "nice": false, "zero": false}, "axis": {"values": [1, 2, 3, 4, 5], "title": "e-LAS"}},
                        "opacity": {"field": "n", "type": "quantitative", "scale": {"domain": [1, 2, 3, 4], "range": [0.22, 0.45, 0.68, 0.95]}, "legend": null}
                      }
                    }
                  ]
                }
              ]
            }
          ]
        }
      ]
    },
    {
      "spacing": 0,
      "hconcat": [
        {"width": 350, "height": 1, "data": {"values": []}, "mark": {"type": "circle"}, "encoding": {}},
        {
          "title": {"text": "Neuroticism"},
          "width": 494, "height": 292,
          "data": {"name": "neu"},
          "mark": {"type": "circle", "size": 50, "color": "#000000"},
          "encoding": {
            "x": {"field": "x", "type": "quantitative", "scale": {"domain": [0.8, 5.2], "nice": false, "zero": false}, "axis": {"values": [1, 2, 3, 4, 5], "title": null}},
            "y": {"field": "y", "type": "quantitative", "scale": {"domain": [0.8, 5.2], "nice": false, "zero": false}, "axis": {"values": [1, 2, 3, 4, 5], "title": "e-LAS"}},
            "opacity": {"field": "n", "type": "quantitative", "scale": {"domain": [1, 2, 3, 4], "range": [0.22, 0.45, 0.68, 0.95]}, "legend": null}
          }
        }
      ]
    }
  ]
}
